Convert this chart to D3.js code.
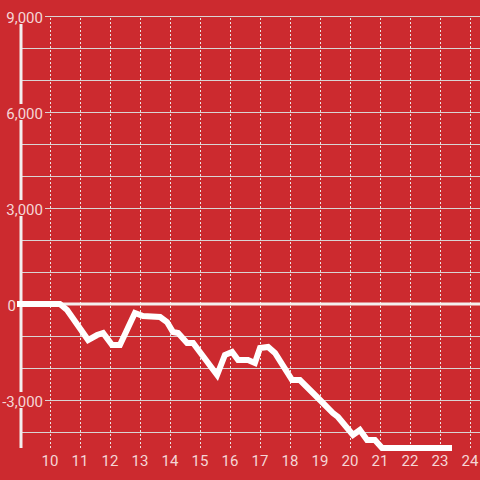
<!DOCTYPE html>
<html><head><meta charset="utf-8">
<script src="https://cdn.jsdelivr.net/npm/d3@7"></script>
<style>html,body{margin:0;padding:0;background:#cc2a2f;}svg{display:block;font-family:Roboto,sans-serif;}</style>
</head><body>
<script>
const xs = [9.0,10.33,10.57,11.27,11.57,11.77,12.07,12.33,12.83,13.1,13.67,13.9,14.1,14.27,14.57,14.77,15.57,15.83,16.07,16.27,16.6,16.83,17.0,17.27,17.5,18.07,18.33,19.0,19.43,19.6,20.1,20.33,20.57,20.83,21.07,23.3];
const ys = [0,0,-188,-1125,-969,-906,-1281,-1281,-281,-375,-406,-563,-875,-906,-1219,-1219,-2219,-1594,-1500,-1750,-1750,-1844,-1375,-1344,-1531,-2375,-2375,-3000,-3406,-3531,-4094,-3938,-4250,-4250,-4500,-4500];
const xTicks = [10,11,12,13,14,15,16,17,18,19,20,21,22,23,24];
const yGrid = [-4000,-3000,-2000,-1000,0,1000,2000,3000,4000,5000,6000,7000,8000,9000];
const yLabels = [-3000,0,3000,6000,9000];

const W=480,H=480;
const x = d3.scaleLinear().domain([9,24]).range([20,470]);
const y = d3.scaleLinear().domain([-4500,9000]).range([448,16]);
const svg = d3.select("body").append("svg").attr("width",W).attr("height",H);
svg.append("rect").attr("width",W).attr("height",H).attr("fill","#cc2a2f");

// vertical dotted grid
svg.append("g").selectAll("line").data(xTicks).join("line")
  .attr("x1",d=>x(d)+0.5).attr("x2",d=>x(d)+0.5).attr("y1",y(9000)+2).attr("y2",448)
  .attr("stroke","#ece2e2").attr("stroke-width",1).attr("stroke-dasharray","2,2");
// horizontal grid
svg.append("g").selectAll("line").data(yGrid.filter(d=>d!==0)).join("line")
  .attr("x1",22).attr("x2",W).attr("y1",d=>y(d)+0.5).attr("y2",d=>y(d)+0.5)
  .attr("stroke","#d9d4d4").attr("stroke-width",1);
// zero line
svg.append("line").attr("x1",22).attr("x2",W).attr("y1",y(0)).attr("y2",y(0))
  .attr("stroke","#f3eeee").attr("stroke-width",3);
// y axis line
svg.append("line").attr("x1",21).attr("x2",21).attr("y1",y(9000)).attr("y2",448)
  .attr("stroke","#f3eeee").attr("stroke-width",3);
// label backgrounds + labels
const lg = svg.append("g");
lg.selectAll("rect").data(yLabels.filter(d=>d!==0)).join("rect")
  .attr("x",0).attr("width",45).attr("y",d=>y(d)-8).attr("height",16).attr("fill","#cc2a2f");
// data line
const pts = xs.map((v,i)=>[v,ys[i]]);
svg.append("path").datum(pts)
  .attr("d",d3.line().x(d=>x(d[0])).y(d=>y(d[1])))
  .attr("fill","none").attr("stroke","#ffffff").attr("stroke-width",6)
  .attr("stroke-linecap","square").attr("stroke-linejoin","miter");
lg.raise();
lg.append("rect").attr("x",0).attr("width",17).attr("y",y(0)-8).attr("height",16).attr("fill","#cc2a2f");
lg.selectAll("text").data(yLabels).join("text")
  .attr("x",d=>d===0?16:43).attr("y",d=>y(d)+6.5).attr("text-anchor","end")
  .attr("font-size",15).attr("fill","#f5d6d6")
  .text(d=>d3.format(",")(d).replace("−","-"));
// x labels
svg.append("g").selectAll("text").data(xTicks).join("text")
  .attr("x",d=>x(d)).attr("y",466).attr("text-anchor","middle")
  .attr("font-size",15).attr("fill","#f5d6d6").text(d=>d);
</script>
</body></html>
